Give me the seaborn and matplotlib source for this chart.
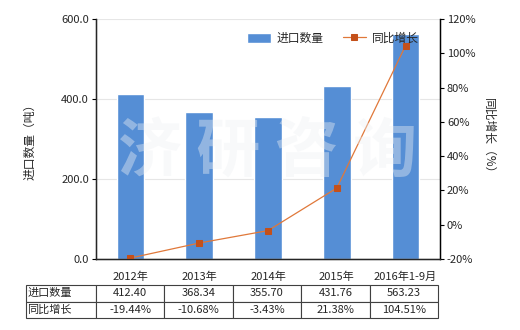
import matplotlib
matplotlib.use("Agg")
import matplotlib.pyplot as plt
import seaborn as sns
import numpy as np
import pandas as pd

categories = ["2012年", "2013年", "2014年", "2015年", "2016年1-9月"]
import_qty = [412.40, 368.34, 355.70, 431.76, 563.23]
growth = [-19.44, -10.68, -3.43, 21.38, 104.51]
qty_labels = ["412.40", "368.34", "355.70", "431.76", "563.23"]
growth_labels = ["-19.44%", "-10.68%", "-3.43%", "21.38%", "104.51%"]
left_ticks = [0, 200, 400, 600]
right_ticks = [-20, 0, 20, 40, 60, 80, 100, 120]

sns.set_style("white")
plt.rcParams['font.family'] = ['Noto Sans CJK SC', 'DejaVu Sans']

bar_color = "#558ED5"
line_color = "#E0783A"
marker_color = "#C4501A"

fig = plt.figure(figsize=(5.2, 3.3), dpi=100)
ax = fig.add_axes([96/520, 1-259/330, 344/520, 240/330])

df = pd.DataFrame({"cat": categories, "qty": import_qty})
sns.barplot(data=df, x="cat", y="qty", color=bar_color, saturation=1, width=0.4, ax=ax, label="进口数量")
ax.set_ylim(0, 600)
ax.set_xlim(-0.5, len(categories) - 0.5)
ax.set_yticks(left_ticks)
ax.set_yticklabels([f"{v:.1f}" for v in left_ticks], fontsize=8)
ax.set_xticks(range(len(categories)))
ax.set_xticklabels(categories, fontsize=8)
ax.set_xlabel("")
ax.set_ylabel("进口数量（吨）", fontsize=8.5, labelpad=18)
ax.yaxis.grid(True, color="#e6e6e6", linewidth=0.8)
ax.set_axisbelow(True)
ax.spines["top"].set_visible(False)
for s in ["left", "bottom", "right"]:
    ax.spines[s].set_color("black")
    ax.spines[s].set_linewidth(1.0)
ax.tick_params(axis="both", direction="out", length=3, width=0.8, color="black", pad=2)
ax.tick_params(axis="x", pad=6)

ax2 = ax.twinx()
sns.lineplot(x=np.arange(len(growth)), y=growth, ax=ax2, color=line_color, linewidth=0.9,
             marker="s", markersize=5, markerfacecolor=marker_color, markeredgecolor=marker_color,
             label="同比增长")
ax2.set_ylim(-20, 120)
ax2.set_yticks(right_ticks)
ax2.set_yticklabels([f"{v}%" for v in right_ticks], fontsize=8)
ax2.set_ylabel("同比增长（%）", fontsize=8.5, rotation=-90, labelpad=14)
ax2.spines["top"].set_visible(False)
ax2.spines["right"].set_color("black")
ax2.tick_params(axis="y", direction="out", length=3, width=0.8, color="black", pad=2)
ax2.set_xlim(-0.5, len(categories) - 0.5)

h1, l1 = ax.get_legend_handles_labels()
h2, l2 = ax2.get_legend_handles_labels()
if ax.get_legend():
    ax.get_legend().remove()
ax2.legend(h1 + h2, l1 + l2, loc="upper right", bbox_to_anchor=(0.97, 0.99), ncol=2, frameon=False,
           fontsize=8.5, handlelength=2.0, handleheight=1.0, columnspacing=1.6, handletextpad=0.5)

# watermark
fig.text(267/520, 1-152/330, "济 研 咨 询", fontsize=46, fontweight="bold", color="#eef1f4",
         alpha=0.4, ha="center", va="center", zorder=10)

# table
tax = fig.add_axes([26/520, 1-318/330, 412/520, 33/330])
tax.axis("off")
cell_text = [["进口数量"] + qty_labels, ["同比增长"] + growth_labels]
col_w = [70] + [68.4] * 5
col_w = [w / sum(col_w) for w in col_w]
tbl = tax.table(cellText=cell_text, colWidths=col_w, bbox=[0, 0, 1, 1], cellLoc="center")
tbl.auto_set_font_size(False)
for (r, c), cell in tbl.get_celld().items():
    cell.set_edgecolor("#404040")
    cell.set_linewidth(0.8)
    cell.get_text().set_fontsize(8)
    if c == 0:
        cell.get_text().set_ha("left")
        cell.PAD = 0.02

fig.savefig("out.png", dpi=100)
